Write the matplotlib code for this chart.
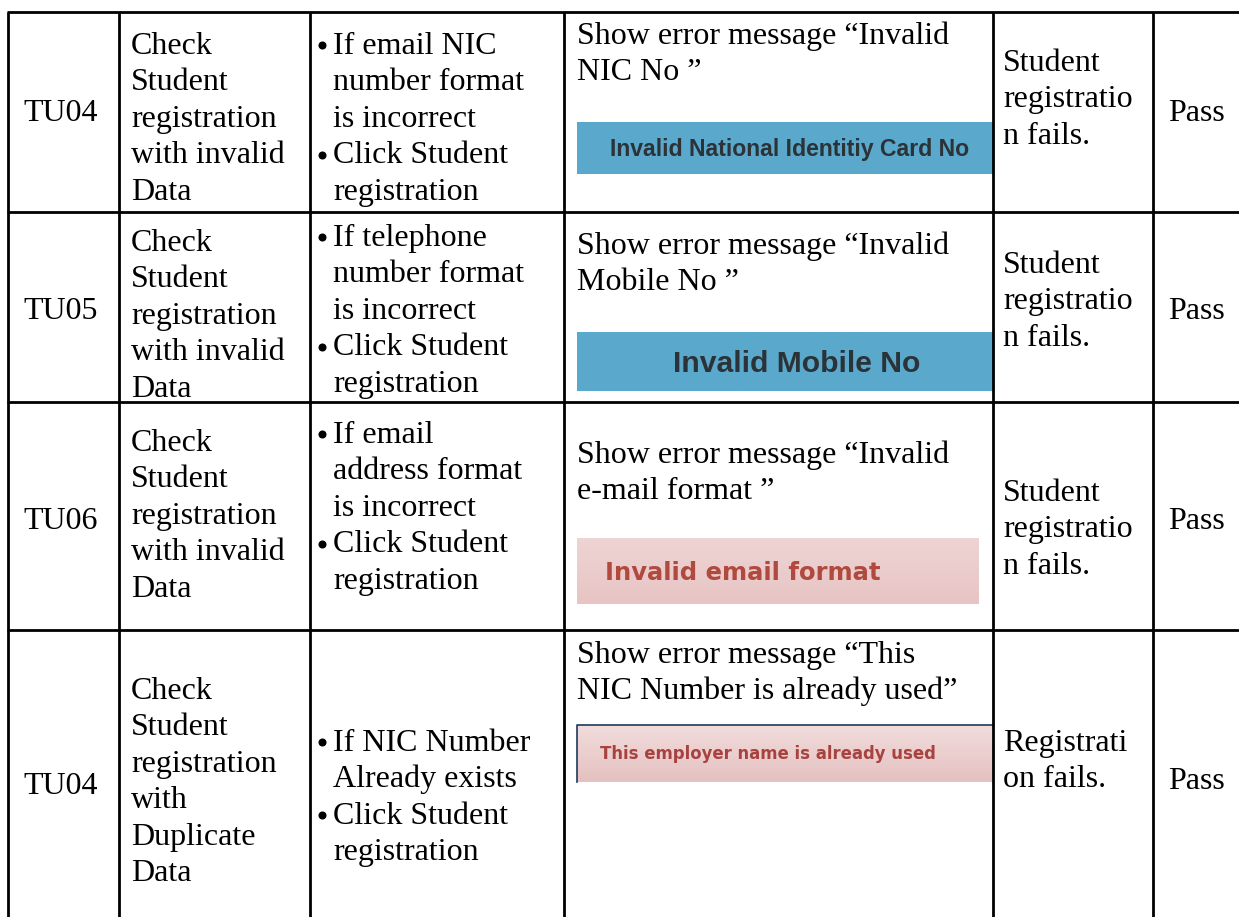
"""
Recreates a test-case table (student registration validation) as a figure.
Each row: test id, description, steps, expected result with a screenshot-like
message box, actual result and status.
"""
import matplotlib
matplotlib.use("Agg")
import matplotlib.pyplot as plt
import numpy as np

# TABLE CONTENT
TEST_IDS = ["TU04", "TU05", "TU06", "TU04"]

DESCRIPTIONS = [
    ["Check", "Student", "registration", "with invalid", "Data"],
    ["Check", "Student", "registration", "with invalid", "Data"],
    ["Check", "Student", "registration", "with invalid", "Data"],
    ["Check", "Student", "registration", "with", "Duplicate", "Data"],
]

# lines starting with "• " get a bullet, the rest are continuation lines
STEPS = [
    ["• If email NIC", "number format", "is incorrect", "• Click Student", "registration"],
    ["• If telephone", "number format", "is incorrect", "• Click Student", "registration"],
    ["• If email", "address format", "is incorrect", "• Click Student", "registration"],
    ["• If NIC Number", "Already exists", "• Click Student", "registration"],
]

EXPECTED = [
    ["Show error message \u201cInvalid", "NIC No \u201d"],
    ["Show error message \u201cInvalid", "Mobile No \u201d"],
    ["Show error message \u201cInvalid", "e-mail format \u201d"],
    ["Show error message \u201cThis", "NIC Number is already used\u201d"],
]

MESSAGES = [
    "Invalid National Identitiy Card No",
    "Invalid Mobile No",
    "Invalid email format",
    "This employer name is already used",
]

ACTUAL = [
    ["Student", "registratio", "n fails."],
    ["Student", "registratio", "n fails."],
    ["Student", "registratio", "n fails."],
    ["Registrati", "on fails."],
]

RESULTS = ["Pass", "Pass", "Pass", "Pass"]

# LAYOUT (pixel coordinates, y grows downwards)
FIG_W, FIG_H, DPI = 1239, 917, 100
COL_X = [8, 119, 310, 564, 993, 1153]
ROW_Y = [12, 212, 402, 630]
LINE_STEP = 36.5
SERIF = "Liberation Serif"
SERIF_SIZE = 23

# first-line visual centre of each cell column, per row
ID_Y = [110, 308, 518, 783]
DESC_Y = [43, 240, 440, 688]
STEP_Y = [43, 235, 432, 740]
EXP_Y = [33, 243, 452, 652]
ACT_Y = [60, 262, 490, 740]
RES_Y = [110, 308, 518, 778]

# message boxes: x0, x1, y0, y1, top colour, bottom colour, text colour, font, size, text x (None = centred)
BOXES = [
    (577, 993, 122, 174, "#5AA9CC", "#5AA9CC", "#2B3338", "Liberation Sans", 16.6, 610),
    (577, 993, 332, 391, "#5AA9CC", "#5AA9CC", "#2B3338", "Liberation Sans", 21.7, None),
    (577, 979, 538, 604, "#EED4D4", "#E8C4C4", "#B04A3E", "DejaVu Sans", 17.5, 605),
    (577, 993, 725, 782, "#F2DCDC", "#E5C1C1", "#A8423F", "DejaVu Sans", 11.9, 600),
]


def px(pt):
    return pt * DPI / 72.0


def draw_lines(ax, x, y_first, lines, bullet_x=None):
    cap_half = 0.331 * px(SERIF_SIZE)
    for i, line in enumerate(lines):
        y = y_first + i * LINE_STEP + cap_half
        if bullet_x is not None and line.startswith("• "):
            # small round bullet, sitting around the x-height middle
            ax.plot(bullet_x, y - 0.8 * cap_half, "o", ms=5.8, color="black", mew=0)
            line = line[2:]
        ax.text(x, y, line, family=SERIF, fontsize=SERIF_SIZE,
                va="baseline", ha="left", color="black")


def draw_box(ax, box, message):
    x0, x1, y0, y1, top, bottom, tcol, font, size, tx = box
    c0 = np.array(matplotlib.colors.to_rgb(top))
    c1 = np.array(matplotlib.colors.to_rgb(bottom))
    t = np.linspace(0, 1, 64)[:, None, None]
    grad = c0 * (1 - t) + c1 * t
    ax.imshow(grad, extent=(x0, x1, y1, y0), aspect="auto", zorder=1,
              interpolation="bilinear")
    yc = (y0 + y1) / 2 + 0.36 * px(size)
    if tx is None:
        ax.text((x0 + x1) / 2 + 12, yc, message, family=font, fontsize=size,
                fontweight="bold", color=tcol, ha="center", va="baseline", zorder=2)
    else:
        ax.text(tx, yc, message, family=font, fontsize=size,
                fontweight="bold", color=tcol, ha="left", va="baseline", zorder=2)


def main():
    fig = plt.figure(figsize=(FIG_W / DPI, FIG_H / DPI), dpi=DPI)
    ax = fig.add_axes([0, 0, 1, 1])
    ax.set_xlim(0, FIG_W)
    ax.set_ylim(FIG_H, 0)
    ax.axis("off")

    # grid lines
    lw = 2.0
    for y in ROW_Y:
        ax.plot([COL_X[0] - 1, FIG_W + 5], [y, y], color="black", lw=lw, zorder=3,
                solid_capstyle="butt")
    for x in COL_X:
        ax.plot([x, x], [ROW_Y[0], FIG_H + 5], color="black", lw=lw, zorder=3,
                solid_capstyle="butt")

    for r in range(len(TEST_IDS)):
        draw_lines(ax, 23, ID_Y[r], [TEST_IDS[r]])
        draw_lines(ax, 131, DESC_Y[r], DESCRIPTIONS[r])
        draw_lines(ax, 333, STEP_Y[r], STEPS[r], bullet_x=322)
        draw_lines(ax, 577, EXP_Y[r], EXPECTED[r])
        draw_box(ax, BOXES[r], MESSAGES[r])
        draw_lines(ax, 1003, ACT_Y[r], ACTUAL[r])
        draw_lines(ax, 1168, RES_Y[r], [RESULTS[r]])

    # dark edge of the last screenshot
    x0, x1, y0, y1 = BOXES[3][:4]
    ax.plot([x0, x0, x1], [y1, y0, y0], color="#1F3A5C", lw=1.2, zorder=2)

    fig.savefig("out.png", dpi=DPI)
    plt.close(fig)


if __name__ == "__main__":
    main()
